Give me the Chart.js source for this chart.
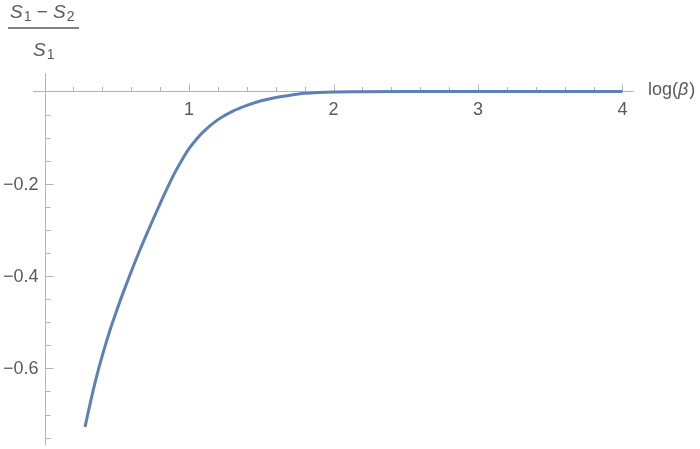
<!DOCTYPE html>
<html>
<head>
<meta charset="utf-8">
<script src="https://cdn.jsdelivr.net/npm/chart.js@4"></script>
<style>
html,body{margin:0;padding:0;background:#fff;}
canvas{display:block;}
</style>
</head>
<body>
<canvas id="c" width="700" height="449"></canvas>
<script>
// log(beta) values and (S1 - S2)/S1 values
const logBeta = [0.28, 0.32, 0.36, 0.40, 0.45, 0.50, 0.55, 0.60, 0.65, 0.70, 0.75, 0.80, 0.85, 0.90, 0.95, 1.00, 1.05, 1.10, 1.20, 1.30, 1.40, 1.50, 1.60, 1.70, 1.80, 1.90, 2.00, 2.50, 3.00, 3.50, 4.00];
const relDiff = [-0.727, -0.670, -0.618, -0.572, -0.520, -0.474, -0.431, -0.390, -0.351, -0.314, -0.278, -0.243, -0.209, -0.177, -0.149, -0.124, -0.104, -0.087, -0.061, -0.043, -0.030, -0.020, -0.013, -0.008, -0.004, -0.002, -0.001, 0, 0, 0, 0];

const xMajorTicks = [1, 2, 3, 4];
const xTickLabels = ['1', '2', '3', '4'];
const xMinorTicks = [0.2, 0.4, 0.6, 0.8, 1.2, 1.4, 1.6, 1.8, 2.2, 2.4, 2.6, 2.8, 3.2, 3.4, 3.6, 3.8];
const yMajorTicks = [0, -0.2, -0.4, -0.6];
const yTickLabels = ['', '\u22120.2', '\u22120.4', '\u22120.6'];
const yMinorTicks = [-0.05, -0.1, -0.15, -0.25, -0.3, -0.35, -0.45, -0.5, -0.55, -0.65, -0.7, -0.75];
const xAxisLabel = ['log(', '\u03B2', ')'];

const AXIS_COLOR = '#b3b3b3';
const LABEL_COLOR = '#5a5a5a';
const FONT = '"Liberation Sans", Arial, sans-serif';

const axesPlugin = {
  id: 'mmaAxes',
  beforeDatasetsDraw(chart) {
    const ctx = chart.ctx;
    const xs = chart.scales.x, ys = chart.scales.y;
    const x0 = Math.round(xs.getPixelForValue(0)) + 0.5;
    const y0 = Math.round(ys.getPixelForValue(0)) + 0.5;
    ctx.save();
    ctx.strokeStyle = AXIS_COLOR;
    ctx.lineWidth = 1;
    ctx.beginPath();
    ctx.moveTo(xs.left, y0); ctx.lineTo(xs.right, y0);
    ctx.moveTo(x0, ys.top); ctx.lineTo(x0, ys.bottom);
    xMajorTicks.forEach(v => { const p = Math.round(xs.getPixelForValue(v)) + 0.5; ctx.moveTo(p, y0); ctx.lineTo(p, y0 - 7); });
    xMinorTicks.forEach(v => { const p = Math.round(xs.getPixelForValue(v)) + 0.5; ctx.moveTo(p, y0); ctx.lineTo(p, y0 - 4.5); });
    yMajorTicks.forEach(v => { const p = Math.round(ys.getPixelForValue(v)) + 0.5; ctx.moveTo(x0, p); ctx.lineTo(x0 + 8, p); });
    yMinorTicks.forEach(v => { const p = Math.round(ys.getPixelForValue(v)) + 0.5; ctx.moveTo(x0, p); ctx.lineTo(x0 + 5, p); });
    ctx.stroke();
    ctx.restore();
  },
  afterDraw(chart) {
    const ctx = chart.ctx;
    const xs = chart.scales.x, ys = chart.scales.y;
    const x0 = xs.getPixelForValue(0);
    const y0 = ys.getPixelForValue(0);
    ctx.save();
    ctx.fillStyle = LABEL_COLOR;
    ctx.font = '18px ' + FONT;
    ctx.textAlign = 'center';
    ctx.textBaseline = 'top';
    xMajorTicks.forEach((v, i) => ctx.fillText(xTickLabels[i], xs.getPixelForValue(v), y0 + 10));
    ctx.textAlign = 'right';
    ctx.textBaseline = 'middle';
    yMajorTicks.forEach((v, i) => { if (yTickLabels[i]) ctx.fillText(yTickLabels[i], x0 - 6, ys.getPixelForValue(v) + 1); });
    // x axis label
    ctx.textAlign = 'left';
    ctx.textBaseline = 'middle';
    let lx = xs.right + 14;
    const ly = y0 - 1;
    ctx.font = '18px ' + FONT;
    ctx.fillText(xAxisLabel[0], lx, ly); lx += ctx.measureText(xAxisLabel[0]).width;
    ctx.font = 'italic 18px ' + FONT;
    ctx.fillText(xAxisLabel[1], lx, ly); lx += ctx.measureText(xAxisLabel[1]).width + 1;
    ctx.font = '18px ' + FONT;
    ctx.fillText(xAxisLabel[2], lx, ly);
    // y axis label: fraction (S1 - S2) / S1
    ctx.textBaseline = 'alphabetic';
    const drawS = (x, y, sub) => {
      ctx.font = 'italic 19px ' + FONT;
      ctx.fillText('S', x, y);
      const w = ctx.measureText('S').width + 1;
      ctx.font = '14px ' + FONT;
      ctx.fillText(sub, x + w, y + 3);
      return w + ctx.measureText(sub).width;
    };
    let tx = 10;
    tx += drawS(tx, 18, '1');
    ctx.font = '19px ' + FONT;
    ctx.fillText(' \u2212 ', tx, 18);
    tx += ctx.measureText(' \u2212 ').width;
    drawS(tx, 18, '2');
    ctx.strokeStyle = LABEL_COLOR;
    ctx.lineWidth = 1.3;
    ctx.beginPath();
    ctx.moveTo(8, 28); ctx.lineTo(79, 28);
    ctx.stroke();
    drawS(33, 56, '1');
    ctx.restore();
  }
};

new Chart(document.getElementById('c'), {
  type: 'scatter',
  data: {
    datasets: [{
      data: logBeta.map((x, i) => ({ x: x, y: relDiff[i] })),
      showLine: true,
      borderColor: '#5e81b5',
      borderWidth: 3,
      pointRadius: 0,
      cubicInterpolationMode: 'monotone',
      fill: false
    }]
  },
  options: {
    responsive: false,
    devicePixelRatio: 1,
    animation: false,
    layout: { padding: { left: 33, right: 66, top: 73, bottom: 4 } },
    plugins: { legend: { display: false }, tooltip: { enabled: false } },
    scales: {
      x: { type: 'linear', min: -0.08, max: 4.08, display: false },
      y: { type: 'linear', min: -0.766, max: 0.04, display: false }
    }
  },
  plugins: [axesPlugin]
});
</script>
</body>
</html>
